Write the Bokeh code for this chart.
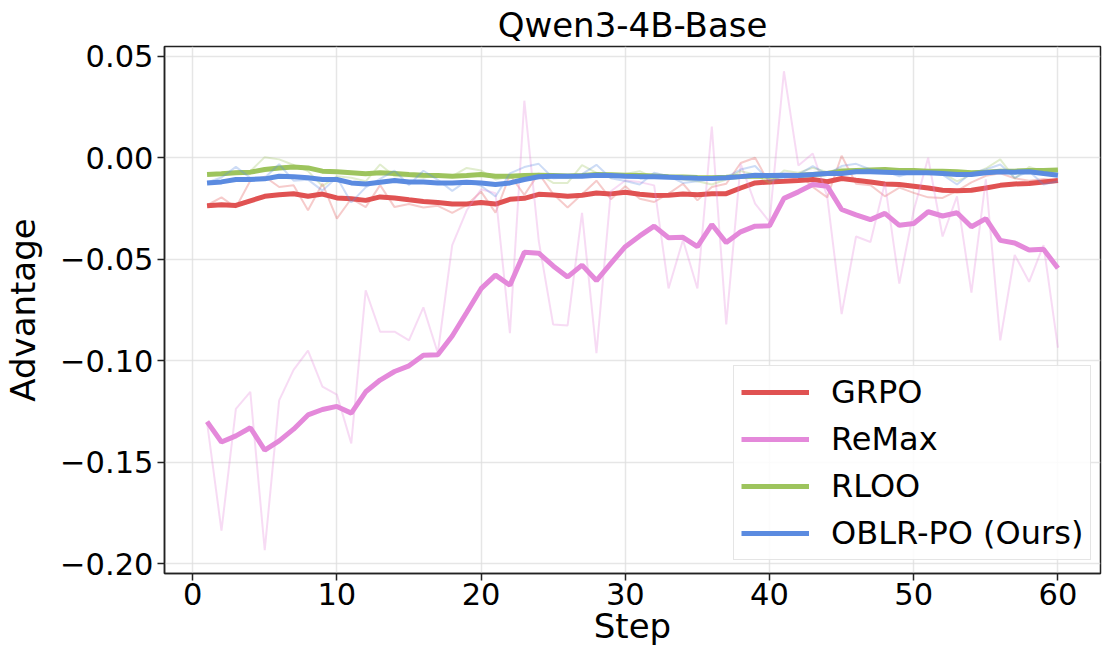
from bokeh.plotting import figure
from bokeh.models import (Range1d, FixedTicker, CustomJSTickFormatter, Legend, LegendItem)
from bokeh.embed import file_html
from bokeh.resources import INLINE

steps = list(range(1, 61))

grpo_raw = [-0.0234, -0.0195, -0.0245, -0.0113, -0.0093, -0.0144, -0.0136, -0.0259, -0.0128, -0.0300,
            -0.0202, -0.0243, -0.0135, -0.0243, -0.0228, -0.0245, -0.0237, -0.0272, -0.0233, -0.0167,
            -0.0270, -0.0085, -0.0183, -0.0077, -0.0179, -0.0245, -0.0180, -0.0113, -0.0204, -0.0140,
            -0.0202, -0.0218, -0.0177, -0.0128, -0.0210, -0.0144, -0.0128, -0.0026, 0.0000, -0.0128,
            -0.0079, -0.0079, -0.0144, -0.0195, 0.0010, -0.0128, -0.0135, -0.0190, -0.0147, -0.0173,
            -0.0195, -0.0198, -0.0163, -0.0121, -0.0089, -0.0077, -0.0101, -0.0113, -0.0105, -0.0111]
grpo_smooth = [-0.0236, -0.0231, -0.0235, -0.0212, -0.0190, -0.0182, -0.0177, -0.0190, -0.0179, -0.0198,
               -0.0202, -0.0210, -0.0193, -0.0198, -0.0207, -0.0215, -0.0220, -0.0228, -0.0228, -0.0220,
               -0.0228, -0.0205, -0.0200, -0.0180, -0.0183, -0.0190, -0.0185, -0.0174, -0.0178, -0.0170,
               -0.0180, -0.0186, -0.0185, -0.0179, -0.0182, -0.0177, -0.0177, -0.0149, -0.0124, -0.0119,
               -0.0116, -0.0112, -0.0107, -0.0118, -0.0102, -0.0111, -0.0119, -0.0129, -0.0132, -0.0140,
               -0.0149, -0.0160, -0.0162, -0.0160, -0.0149, -0.0136, -0.0129, -0.0127, -0.0119, -0.0112]

remax_raw = [-0.1303, -0.1837, -0.1237, -0.1153, -0.1933, -0.1195, -0.1045, -0.0950, -0.1128, -0.1167,
             -0.1407, -0.0653, -0.0857, -0.0857, -0.0900, -0.0737, -0.0962, -0.0430, -0.0260, -0.0155,
             -0.0175, -0.0864, 0.0281, -0.0410, -0.0822, -0.0826, -0.0272, -0.0962, -0.0165, -0.0112,
             -0.0120, -0.0136, -0.0644, -0.0405, -0.0644, 0.0154, -0.0821, -0.0030, -0.0226, -0.0316,
             0.0426, -0.0038, 0.0021, -0.0190, -0.0770, -0.0388, -0.0415, -0.0124, -0.0620, -0.0260,
             0.0000, -0.0388, -0.0190, -0.0664, -0.0106, -0.0900, -0.0479, -0.0611, -0.0430, -0.0936]
remax_smooth = [-0.1300, -0.1400, -0.1370, -0.1330, -0.1440, -0.1395, -0.1337, -0.1267, -0.1240, -0.1225,
                -0.1258, -0.1153, -0.1095, -0.1053, -0.1025, -0.0973, -0.0970, -0.0878, -0.0762, -0.0645,
                -0.0578, -0.0628, -0.0466, -0.0470, -0.0533, -0.0587, -0.0529, -0.0605, -0.0520, -0.0438,
                -0.0385, -0.0337, -0.0394, -0.0392, -0.0438, -0.0329, -0.0418, -0.0365, -0.0337, -0.0335,
                -0.0200, -0.0168, -0.0132, -0.0140, -0.0255, -0.0281, -0.0305, -0.0274, -0.0333, -0.0324,
                -0.0266, -0.0287, -0.0271, -0.0340, -0.0300, -0.0407, -0.0420, -0.0455, -0.0451, -0.0544]

rloo_raw = [-0.0083, -0.0074, -0.0066, -0.0066, 0.0003, -0.0008, -0.0036, -0.0066, -0.0140, -0.0091,
            -0.0099, -0.0116, -0.0033, -0.0091, -0.0091, -0.0099, -0.0083, -0.0091, -0.0050, -0.0063,
            -0.0107, -0.0091, -0.0083, -0.0080, -0.0124, -0.0124, -0.0036, -0.0074, -0.0099, -0.0080,
            -0.0066, -0.0099, -0.0099, -0.0107, -0.0116, -0.0132, -0.0107, -0.0066, -0.0083, -0.0124,
            -0.0063, -0.0074, -0.0050, -0.0070, -0.0053, -0.0058, -0.0066, -0.0050, -0.0074, -0.0066,
            -0.0083, -0.0074, -0.0116, -0.0083, -0.0053, -0.0008, -0.0102, -0.0046, -0.0066, -0.0063]
rloo_smooth = [-0.0083, -0.0079, -0.0074, -0.0071, -0.0058, -0.0050, -0.0046, -0.0050, -0.0066, -0.0069,
               -0.0074, -0.0079, -0.0074, -0.0078, -0.0083, -0.0086, -0.0088, -0.0091, -0.0088, -0.0083,
               -0.0091, -0.0091, -0.0088, -0.0086, -0.0088, -0.0090, -0.0088, -0.0083, -0.0084, -0.0086,
               -0.0088, -0.0090, -0.0093, -0.0095, -0.0097, -0.0098, -0.0096, -0.0093, -0.0090, -0.0091,
               -0.0088, -0.0086, -0.0083, -0.0078, -0.0066, -0.0063, -0.0060, -0.0058, -0.0063, -0.0063,
               -0.0066, -0.0066, -0.0069, -0.0074, -0.0071, -0.0066, -0.0066, -0.0063, -0.0063, -0.0060]

oblr_raw = [-0.0122, -0.0097, -0.0045, -0.0099, -0.0099, -0.0032, -0.0113, -0.0108, -0.0162, -0.0097,
            -0.0220, -0.0146, -0.0104, -0.0064, -0.0134, -0.0064, -0.0109, -0.0163, -0.0114, -0.0138,
            -0.0191, -0.0077, -0.0046, -0.0030, -0.0101, -0.0097, -0.0081, -0.0035, -0.0101, -0.0115,
            -0.0132, -0.0074, -0.0091, -0.0124, -0.0116, -0.0107, -0.0096, -0.0058, -0.0041, -0.0112,
            -0.0099, -0.0083, -0.0041, -0.0082, -0.0041, -0.0030, -0.0058, -0.0066, -0.0091, -0.0069,
            -0.0074, -0.0083, -0.0132, -0.0074, -0.0058, -0.0033, -0.0099, -0.0066, -0.0132, -0.0116]
oblr_smooth = [-0.0124, -0.0119, -0.0107, -0.0107, -0.0104, -0.0091, -0.0094, -0.0099, -0.0107, -0.0107,
               -0.0124, -0.0129, -0.0121, -0.0112, -0.0120, -0.0119, -0.0124, -0.0124, -0.0121, -0.0124,
               -0.0132, -0.0124, -0.0107, -0.0094, -0.0091, -0.0091, -0.0091, -0.0086, -0.0088, -0.0091,
               -0.0093, -0.0094, -0.0096, -0.0099, -0.0101, -0.0102, -0.0099, -0.0093, -0.0086, -0.0088,
               -0.0086, -0.0088, -0.0083, -0.0078, -0.0078, -0.0069, -0.0069, -0.0071, -0.0074, -0.0074,
               -0.0074, -0.0078, -0.0083, -0.0083, -0.0074, -0.0069, -0.0071, -0.0069, -0.0078, -0.0086]

labels = ["GRPO", "ReMax", "RLOO", "OBLR-PO (Ours)"]
colors = ["#E05252", "#E489DA", "#9DC45D", "#5B8BE0"]
x_ticks = [0, 10, 20, 30, 40, 50, 60]
y_ticks = [-0.20, -0.15, -0.10, -0.05, 0.00, 0.05]

FONT = "DejaVu Sans"

p = figure(width=1104, height=653, output_backend="svg", toolbar_location=None,
           x_range=Range1d(-1.95, 62.95), y_range=Range1d(-0.2048, 0.0548),
           min_border_left=159, min_border_right=4, min_border_top=38, min_border_bottom=80)

p.title.text = "Qwen3-4B-Base"
p.title.align = "center"
p.title.text_font = FONT
p.title.text_font_size = "34px"
p.title.text_font_style = "normal"
p.title.text_color = "black"
p.title.standoff = 4
p.title.text_line_height = 1.0

p.outline_line_color = "#222222"
p.outline_line_width = 1.5
p.outline_line_alpha = 1.0

for ax in (p.xaxis[0], p.yaxis[0]):
    ax.axis_line_color = "#222222"
    ax.axis_line_width = 1.5
    ax.major_tick_line_color = "#222222"
    ax.major_tick_line_width = 1.5
    ax.major_tick_out = 7
    ax.major_tick_in = 0
    ax.minor_tick_line_color = None
    ax.major_label_text_font = FONT
    ax.major_label_text_font_size = "30.5px"
    ax.major_label_text_color = "black"
    ax.axis_label_text_font = FONT
    ax.axis_label_text_font_size = "34px"
    ax.axis_label_text_font_style = "normal"
    ax.axis_label_text_color = "black"

p.xaxis.ticker = FixedTicker(ticks=x_ticks)
p.yaxis.ticker = FixedTicker(ticks=y_ticks)
p.yaxis.formatter = CustomJSTickFormatter(code="""
    const v = Math.abs(tick) < 1e-9 ? 0 : tick;
    return (v < 0 ? '\\u2212' : '') + Math.abs(v).toFixed(2);
""")
p.xaxis.axis_label = "Step"
p.yaxis.axis_label = "Advantage"
p.xaxis.major_label_standoff = 2
p.yaxis.major_label_standoff = 4
p.xaxis.axis_label_standoff = -2
p.yaxis.axis_label_standoff = 14

p.xgrid.ticker = FixedTicker(ticks=x_ticks)
p.ygrid.ticker = FixedTicker(ticks=y_ticks)
p.grid.grid_line_color = "#dddddd"
p.grid.grid_line_width = 1.5
p.grid.grid_line_alpha = 0.75

series = [(grpo_raw, grpo_smooth), (remax_raw, remax_smooth),
          (rloo_raw, rloo_smooth), (oblr_raw, oblr_smooth)]
items = []
for (raw, sm), lab, col in zip(series, labels, colors):
    p.line(steps, raw, line_color=col, line_width=2, line_alpha=0.3)
    r = p.line(steps, sm, line_color=col, line_width=5, line_alpha=1.0)
    items.append(LegendItem(label=lab, renderers=[r]))

legend = Legend(items=items, location=(569, 13))
legend.label_text_font = FONT
legend.label_text_font_size = "32px"
legend.label_text_color = "black"
legend.glyph_width = 68
legend.glyph_height = 38
legend.label_height = 38
legend.spacing = 9
legend.label_standoff = 22
legend.padding = 7
legend.margin = 0
legend.border_line_color = "#cccccc"
legend.border_line_width = 1.5
legend.background_fill_alpha = 0.85
p.add_layout(legend)

open("out.html", "w").write(file_html(p, INLINE))
